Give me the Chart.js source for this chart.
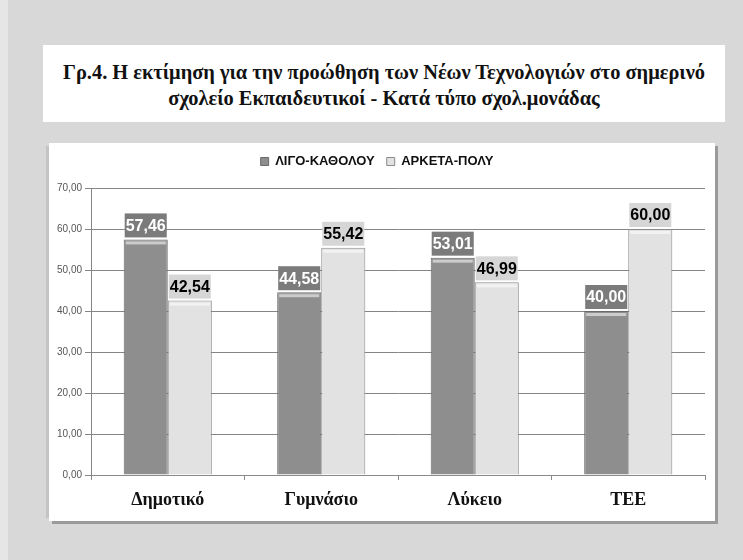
<!DOCTYPE html>
<html>
<head>
<meta charset="utf-8">
<script src="https://cdn.jsdelivr.net/npm/chart.js@4"></script>
<style>
  body { margin: 0; width: 743px; height: 560px; overflow: hidden;
         background: linear-gradient(to right, #e6e6e6 0, #e6e6e6 8px, #d8d8d8 8px); }
  #title { position: absolute; left: 43px; top: 45px; width: 682px; height: 77px;
           background: #fff; box-sizing: border-box; padding-top: 14px;
           font: bold 20.4px "Liberation Serif", "Times New Roman", serif;
           text-align: center; line-height: 26px; color: #111; }
  #box { position: absolute; left: 49px; top: 143px; width: 666px; height: 378px;
         background: #fff; box-shadow: 3px 3px 0 #9a9a9a, -6px 0 0 -3px #c4c4c4; }
</style>
</head>
<body>
<div id="title">Γρ.4. Η εκτίμηση για την προώθηση των Νέων Τεχνολογιών στο σημερινό<br>σχολείο Εκπαιδευτικοί - Κατά τύπο σχολ.μονάδας</div>
<div id="box"><canvas id="chart" width="666" height="378"></canvas></div>
<script>
const categories = ["Δημοτικό", "Γυμνάσιο", "Λύκειο", "ΤΕΕ"];
const seriesNames = ["ΛΙΓΟ-ΚΑΘΟΛΟΥ", "ΑΡΚΕΤΑ-ΠΟΛΥ"];
const ligoKatholou = [57.46, 44.58, 53.01, 40.00];
const arketaPoly = [42.54, 55.42, 46.99, 60.00];

const fmt = v => v.toFixed(2).replace(".", ",");

// keep the legend near the top but leave room before the plot
const legendSpace = {
  id: "legendSpace",
  beforeInit(chart) {
    const fit = chart.legend.fit;
    chart.legend.fit = function () {
      fit.bind(chart.legend)();
      this.height = 45;
    };
  }
};

// value boxes above each bar, plus the light strip on top of the bars
const valueBoxes = {
  id: "valueBoxes",
  afterDatasetsDraw(chart) {
    const ctx = chart.ctx;
    chart.data.datasets.forEach((ds, i) => {
      chart.getDatasetMeta(i).data.forEach((bar, j) => {
        const w = bar.width;
        const left = bar.x - w / 2;
        ctx.save();
        ctx.fillStyle = "rgba(255,255,255,0.55)";
        ctx.fillRect(left + 2, bar.y + 2, w - 4, 3);
        ctx.fillStyle = i === 0 ? "#7b7b7b" : "#d6d6d6";
        ctx.fillRect(left + 1, bar.y - 26, w - 2, 24);
        ctx.fillStyle = i === 0 ? "#ffffff" : "#000000";
        ctx.font = "bold 16px 'Liberation Sans', Arial, sans-serif";
        ctx.textAlign = "center";
        ctx.textBaseline = "middle";
        ctx.fillText(fmt(ds.data[j]), bar.x, bar.y - 13);
        ctx.restore();
      });
    });
  }
};

new Chart(document.getElementById("chart"), {
  type: "bar",
  data: {
    labels: categories,
    datasets: [{
      label: seriesNames[0],
      data: ligoKatholou,
      backgroundColor: "#8e8e8e",
      borderColor: "#6a6a6a",
      borderWidth: 1,
      borderSkipped: "bottom"
    }, {
      label: seriesNames[1],
      data: arketaPoly,
      backgroundColor: "#e2e2e2",
      borderColor: "#8a8a8a",
      borderWidth: 1,
      borderSkipped: "bottom"
    }]
  },
  options: {
    responsive: false,
    animation: false,
    layout: { padding: { left: 0, right: 10, top: 0, bottom: 0 } },
    datasets: { bar: { categoryPercentage: 0.574, barPercentage: 1 } },
    plugins: {
      legend: {
        labels: {
          boxWidth: 8, boxHeight: 8, padding: 12, color: "#111",
          font: { family: "'Liberation Sans Narrow', 'Arial Narrow', sans-serif", size: 13, weight: "bold" }
        }
      },
      tooltip: { enabled: false }
    },
    scales: {
      x: {
        grid: { display: true, drawOnChartArea: false, color: "#8a8a8a", tickLength: 5, offset: true },
        border: { color: "#8a8a8a" },
        ticks: {
          color: "#111", padding: 10,
          font: { family: "'Liberation Serif', 'Times New Roman', serif", size: 18, weight: "bold" }
        },
        afterFit: s => { s.height = 46; }
      },
      y: {
        min: 0, max: 70,
        ticks: {
          stepSize: 10, color: "#555", padding: 3,
          callback: v => fmt(v),
          font: { family: "'Liberation Sans Narrow', 'Arial Narrow', sans-serif", size: 10 }
        },
        grid: { color: "#858585", tickLength: 6 },
        border: { color: "#858585" },
        afterFit: s => { s.width = 42; }
      }
    }
  },
  plugins: [legendSpace, valueBoxes]
});
</script>
</body>
</html>
